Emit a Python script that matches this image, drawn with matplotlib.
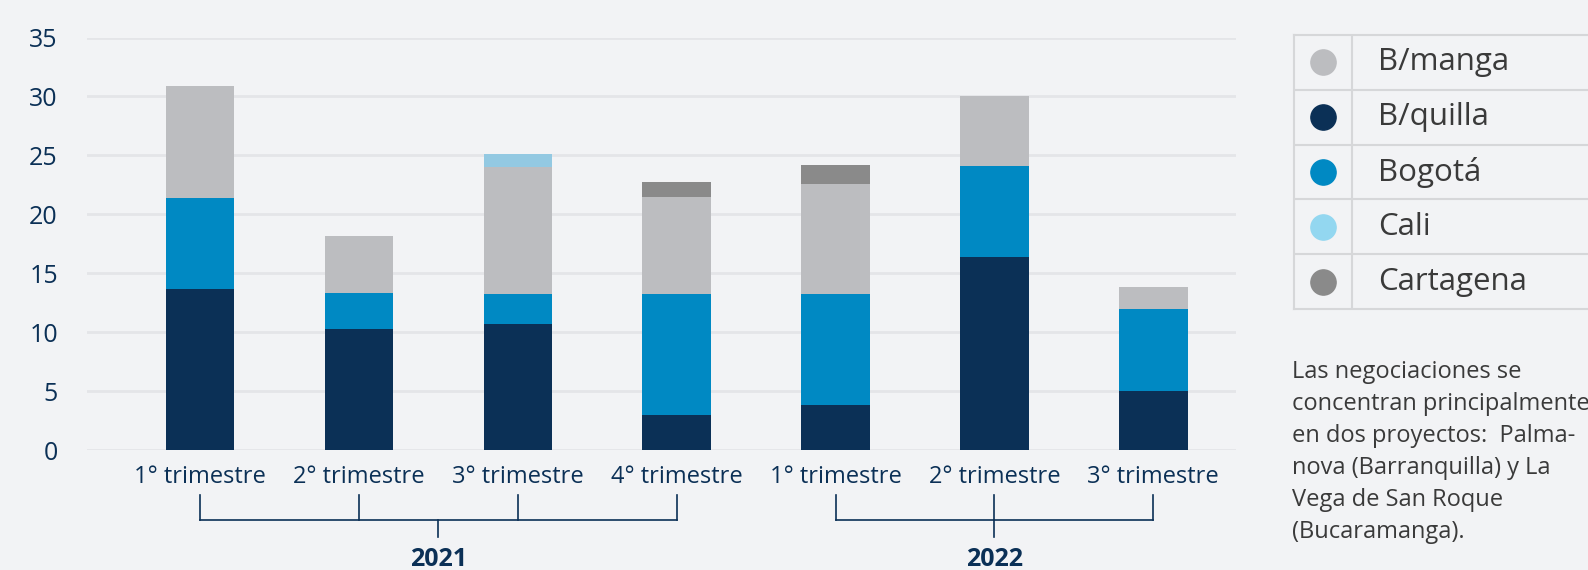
import numpy as np
import matplotlib
matplotlib.use("Agg")
import matplotlib.pyplot as plt
from matplotlib.lines import Line2D
from matplotlib.transforms import blended_transform_factory

plt.rcParams["font.family"] = ["Open Sans", "DejaVu Sans"]

# datos
quarters = ["1° trimestre", "2° trimestre", "3° trimestre", "4° trimestre",
            "1° trimestre", "2° trimestre", "3° trimestre"]
years = ["2021", "2022"]
year_groups = [[0, 1, 2, 3], [4, 5, 6]]

series = ["B/manga", "B/quilla", "Bogotá", "Cali", "Cartagena"]
bquilla = [13.7, 10.3, 10.7, 3.0, 3.8, 16.4, 5.0]
bogota = [7.7, 3.0, 2.5, 10.2, 9.4, 7.7, 7.0]
bmanga = [9.5, 4.9, 10.8, 8.3, 9.4, 5.9, 1.8]
cali = [0, 0, 1.1, 0, 0, 0, 0]
cartagena = [0, 0, 0, 1.2, 1.6, 0, 0]

colors = {"B/manga": "#bcbdc0", "B/quilla": "#0b3056", "Bogotá": "#0089c3",
          "Cali": "#93c9e2", "Cartagena": "#8a8a8a"}
legend_colors = {"B/manga": "#bcbdc0", "B/quilla": "#0b3056", "Bogotá": "#0089c3",
                 "Cali": "#93d7f0", "Cartagena": "#8a8a8a"}

note = ("Las negociaciones se\nconcentran principalmente\nen dos proyectos:  Palma-\n"
        "nova (Barranquilla) y La\nVega de San Roque\n(Bucaramanga).")

BG = "#f2f3f5"
NAVY = "#0b3056"
W, H = 1588, 570

fig = plt.figure(figsize=(W / 100, H / 100), dpi=100, facecolor=BG)
ax = fig.add_axes([87 / W, 1 - 450 / H, (1236 - 87) / W, (450 - 37.5) / H])
ax.set_facecolor(BG)

x = np.arange(len(quarters))
stack_order = [("B/quilla", bquilla), ("Bogotá", bogota), ("B/manga", bmanga),
               ("Cali", cali), ("Cartagena", cartagena)]
bottom = np.zeros(len(x))
for name, vals in stack_order:
    vals = np.array(vals, dtype=float)
    ax.bar(x, vals, width=0.43, bottom=bottom, color=colors[name], zorder=3,
           edgecolor="none")
    bottom += vals

ax.set_xlim(-0.71, 6.52)
ax.set_ylim(0, 35)
ax.set_yticks(range(0, 36, 5))
ax.grid(axis="y", color="#e4e5e8", linewidth=2, zorder=0)
ax.set_axisbelow(True)
for s in ax.spines.values():
    s.set_visible(False)
ax.tick_params(axis="both", length=0, colors=NAVY)
ax.tick_params(axis="y", pad=21, labelsize=18)
ax.tick_params(axis="x", pad=11, labelsize=17)
ax.set_xticks(x)
ax.set_xticklabels(quarters)

# llaves de los años
tr = blended_transform_factory(ax.transData, fig.transFigure)
y_top, y_mid, y_bot, y_lab = 1 - 495 / H, 1 - 520 / H, 1 - 537 / H, 1 - 559 / H
for yr, idx in zip(years, year_groups):
    for i in idx:
        fig.add_artist(Line2D([x[i], x[i]], [y_top, y_mid], transform=tr,
                              color=NAVY, lw=1.2))
    fig.add_artist(Line2D([x[idx[0]], x[idx[-1]]], [y_mid, y_mid], transform=tr,
                          color=NAVY, lw=1.2))
    c = (x[idx[0]] + x[idx[-1]]) / 2
    fig.add_artist(Line2D([c, c], [y_mid, y_bot], transform=tr, color=NAVY, lw=1.2))
    fig.text(c, y_lab, yr, transform=tr, ha="center", va="center",
             fontsize=18, fontweight="bold", color=NAVY)

# leyenda en forma de tabla
lax = fig.add_axes([1294 / W, 1 - 309 / H, (1620 - 1294) / W, (309 - 35) / H])
lax.set_xlim(1294, 1620)
lax.set_ylim(309, 35)
lax.set_facecolor(BG)
lax.set_xticks([])
lax.set_yticks([])
for s in lax.spines.values():
    s.set_color("#d6d7d9")
    s.set_linewidth(1.5)
row_h = (309 - 35) / len(series)
for i, name in enumerate(series):
    yc = 35 + row_h * (i + 0.5)
    if i > 0:
        lax.axhline(35 + row_h * i, color="#d6d7d9", lw=1.5)
    lax.scatter([1323], [yc], s=330, color=legend_colors[name], zorder=3)
    lax.text(1378, yc, name, va="center", ha="left", fontsize=22.5, color="#3a3a3a")
lax.axvline(1352, color="#d6d7d9", lw=1.5)

fig.text(1292 / W, 1 - 360 / H, note, ha="left", va="top", fontsize=17,
         color="#3a3a3a", linespacing=1.45)

fig.savefig("out.png", dpi=100, facecolor=BG)
